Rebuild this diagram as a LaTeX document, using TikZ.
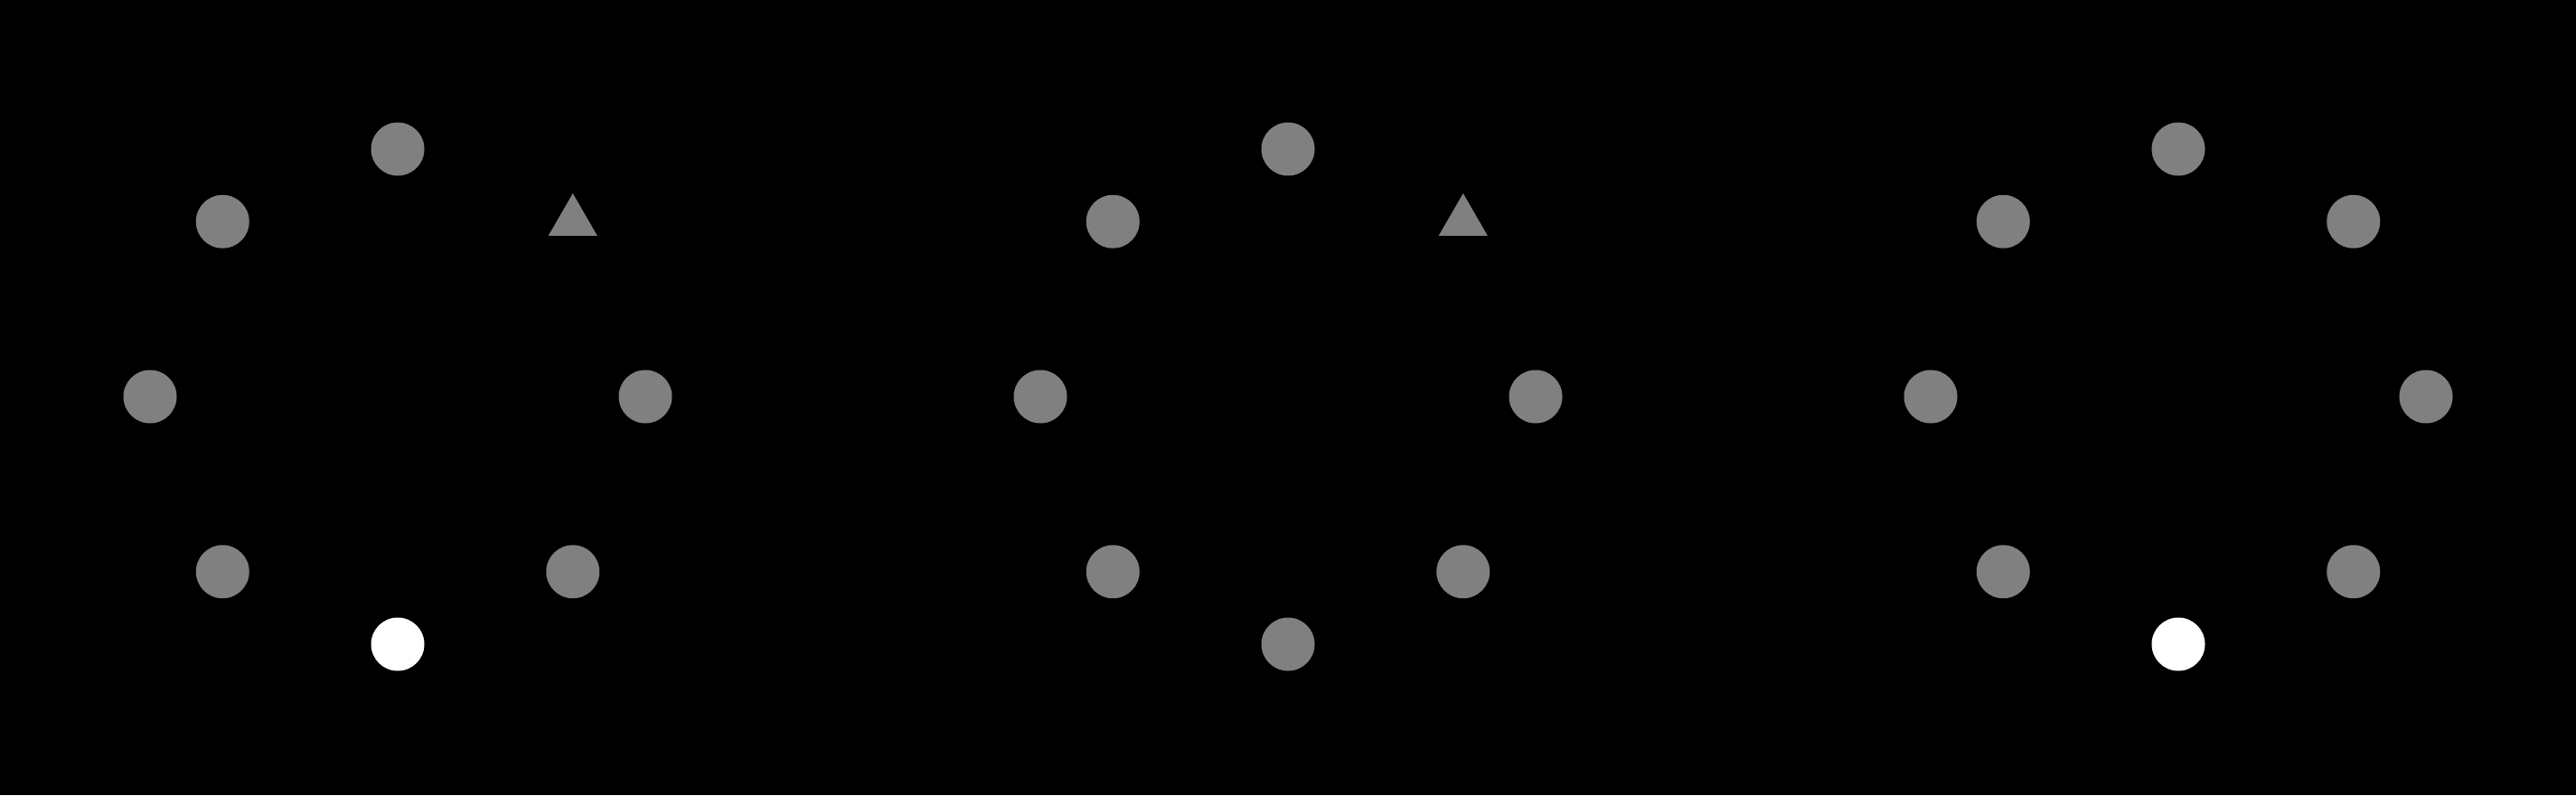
\documentclass[tikz,border=0pt]{standalone}
\usetikzlibrary{shapes.geometric}

\begin{document}
\begin{tikzpicture}[
  dot/.style={circle,fill=#1,minimum size=0.59cm,inner sep=0pt},
  dot/.default=gray,
  tri/.style={regular polygon,regular polygon sides=3,fill=gray,minimum size=0.624cm,inner sep=0pt},
]

% === Background (fixes the page size) ===
\fill[black] (0,0) rectangle (28.5,8.8);

% === Left ring ===
\begin{scope}[shift={(4.40,4.41)}]
\node[dot] (La) at (90:2.74) {};
\node[tri] (Lb) at (45:2.74) {};
\node[dot] (Lc) at (0:2.74) {};
\node[dot] (Ld) at (-45:2.74) {};
\node[dot=white] (Le) at (-90:2.74) {};
\node[dot] (Lf) at (-135:2.74) {};
\node[dot] (Lg) at (180:2.74) {};
\node[dot] (Lh) at (135:2.74) {};
\end{scope}

% === Middle ring ===
\begin{scope}[shift={(14.25,4.41)}]
\node[dot] (Ma) at (90:2.74) {};
\node[tri] (Mb) at (45:2.74) {};
\node[dot] (Mc) at (0:2.74) {};
\node[dot] (Md) at (-45:2.74) {};
\node[dot] (Me) at (-90:2.74) {};
\node[dot] (Mf) at (-135:2.74) {};
\node[dot] (Mg) at (180:2.74) {};
\node[dot] (Mh) at (135:2.74) {};
\end{scope}

% === Right ring ===
\begin{scope}[shift={(24.10,4.41)}]
\node[dot] (Ra) at (90:2.74) {};
\node[dot] (Rb) at (45:2.74) {};
\node[dot] (Rc) at (0:2.74) {};
\node[dot] (Rd) at (-45:2.74) {};
\node[dot=white] (Re) at (-90:2.74) {};
\node[dot] (Rf) at (-135:2.74) {};
\node[dot] (Rg) at (180:2.74) {};
\node[dot] (Rh) at (135:2.74) {};
\end{scope}

\end{tikzpicture}
\end{document}
